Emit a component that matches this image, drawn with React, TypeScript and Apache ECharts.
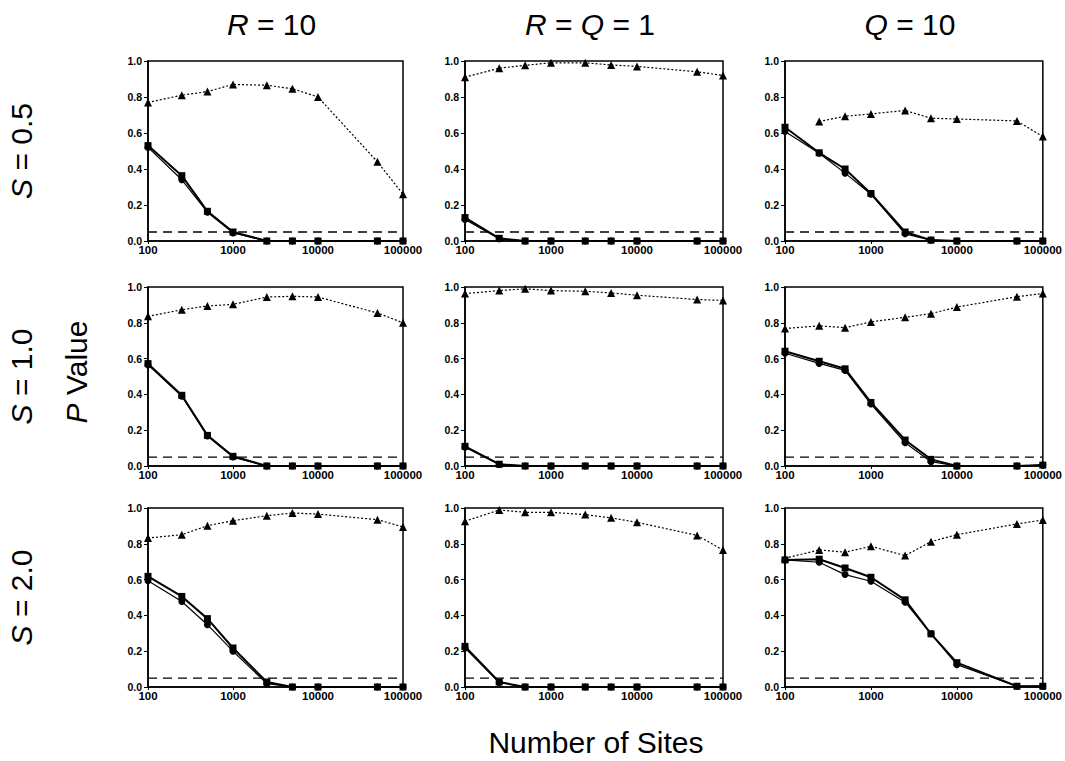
import React, { useEffect, useRef } from "react";
import * as echarts from "echarts";

// ---- data ----
const sites = [100, 250, 500, 1000, 2500, 5000, 10000, 50000, 100000];
const threshold = 0.05;
const colTitles = ["{i|R} = 10", "{i|R} = {i|Q} = 1", "{i|Q} = 10"];
const rowTitles = ["{i|S} = 0.5", "{i|S} = 1.0", "{i|S} = 2.0"];
const yTitle = "{i|P} Value";
const xTitle = "Number of Sites";

// triangles (dotted)
const triS05R10 = [0.77, 0.81, 0.83, 0.87, 0.865, 0.846, 0.8, 0.44, 0.26];
const triS05RQ1 = [0.91, 0.96, 0.976, 0.99, 0.99, 0.978, 0.97, 0.94, 0.92];
const triS05Q10 = [null, 0.664, 0.693, 0.706, 0.725, 0.682, 0.678, 0.667, 0.58];
const triS10R10 = [0.836, 0.873, 0.894, 0.903, 0.944, 0.948, 0.944, 0.855, 0.8];
const triS10RQ1 = [0.963, 0.98, 0.99, 0.98, 0.976, 0.967, 0.954, 0.93, 0.925];
const triS10Q10 = [0.768, 0.783, 0.773, 0.805, 0.831, 0.851, 0.888, 0.946, 0.963];
const triS20R10 = [0.832, 0.851, 0.901, 0.929, 0.957, 0.972, 0.966, 0.935, 0.894];
const triS20RQ1 = [0.926, 0.989, 0.976, 0.976, 0.963, 0.945, 0.92, 0.847, 0.765];
const triS20Q10 = [0.719, 0.766, 0.753, 0.786, 0.734, 0.812, 0.851, 0.911, 0.933];

// squares (thick solid)
const sqS05R10 = [0.53, 0.363, 0.165, 0.05, 0, 0, 0, 0, 0];
const sqS05RQ1 = [0.13, 0.015, 0, 0, 0, 0, 0, 0, 0];
const sqS05Q10 = [0.632, 0.49, 0.4, 0.264, 0.05, 0.005, 0, 0, 0];
const sqS10R10 = [0.572, 0.395, 0.171, 0.054, 0, 0, 0, 0, 0];
const sqS10RQ1 = [0.11, 0.01, 0, 0, 0, 0, 0, 0, 0];
const sqS10Q10 = [0.641, 0.585, 0.543, 0.355, 0.145, 0.037, 0, 0, 0.005];
const sqS20R10 = [0.618, 0.506, 0.382, 0.218, 0.028, 0, 0, 0, 0];
const sqS20RQ1 = [0.227, 0.028, 0, 0, 0, 0, 0, 0, 0];
const sqS20Q10 = [0.71, 0.714, 0.665, 0.613, 0.487, 0.297, 0.136, 0.004, 0.004];

// circles (thin solid)
const ciS05R10 = [0.52, 0.34, 0.16, 0.045, 0, 0, 0, 0, 0];
const ciS05RQ1 = [0.12, 0.012, 0, 0, 0, 0, 0, 0, 0];
const ciS05Q10 = [0.608, 0.488, 0.377, 0.26, 0.04, 0.005, 0, 0, 0];
const ciS10R10 = [0.565, 0.39, 0.168, 0.05, 0, 0, 0, 0, 0];
const ciS10RQ1 = [0.105, 0.008, 0, 0, 0, 0, 0, 0, 0];
const ciS10Q10 = [0.63, 0.573, 0.534, 0.346, 0.13, 0.024, 0, 0, 0.005];
const ciS20R10 = [0.594, 0.478, 0.348, 0.2, 0.019, 0, 0, 0, 0];
const ciS20RQ1 = [0.218, 0.025, 0, 0, 0, 0, 0, 0, 0];
const ciS20Q10 = [0.71, 0.697, 0.628, 0.591, 0.474, 0.297, 0.125, 0.004, 0.005];

const panels = [
  [triS05R10, sqS05R10, ciS05R10],
  [triS05RQ1, sqS05RQ1, ciS05RQ1],
  [triS05Q10, sqS05Q10, ciS05Q10],
  [triS10R10, sqS10R10, ciS10R10],
  [triS10RQ1, sqS10RQ1, ciS10RQ1],
  [triS10Q10, sqS10Q10, ciS10Q10],
  [triS20R10, sqS20R10, ciS20R10],
  [triS20RQ1, sqS20RQ1, ciS20RQ1],
  [triS20Q10, sqS20Q10, ciS20Q10],
];

const FONT = "Liberation Sans, Arial, Helvetica, sans-serif";

function pairs(vals: (number | null)[]) {
  const out: [number, number][] = [];
  vals.forEach((v, i) => {
    if (v !== null && v !== undefined) out.push([sites[i], v]);
  });
  return out;
}

export default function App() {
  const ref = useRef<HTMLDivElement>(null);
  useEffect(() => {
    if (!ref.current) return;
    const chart = echarts.init(ref.current, null, { renderer: "svg" });
    const colLeft = [148, 465, 785];
    const colWidth = [255, 258, 258];
    const rowTop = [61, 287, 508];
    const rowHeight = [180, 179, 179];

    const grids: any[] = [];
    const xAxes: any[] = [];
    const yAxes: any[] = [];
    const series: any[] = [];

    panels.forEach((p, idx) => {
      const r = Math.floor(idx / 3);
      const c = idx % 3;
      grids.push({
        left: colLeft[c],
        top: rowTop[r],
        width: colWidth[c],
        height: rowHeight[r],
        show: true,
        borderColor: "#000",
        borderWidth: 1.5,
        backgroundColor: "transparent",
      });
      xAxes.push({
        gridIndex: idx,
        type: "log",
        logBase: 10,
        min: 100,
        max: 100000,
        axisLine: { show: true, onZero: false, lineStyle: { color: "#000", width: 1.5 } },
        axisTick: { show: true, length: 3, lineStyle: { color: "#000" } },
        axisLabel: {
          color: "#000000",
          fontSize: 11.5,
          fontWeight: "bold",
          fontFamily: FONT,
          margin: 3,
          formatter: (v: number) => String(Math.round(v)),
        },
        splitLine: { show: false },
      });
      yAxes.push({
        gridIndex: idx,
        type: "value",
        min: 0,
        max: 1,
        interval: 0.2,
        axisLine: { show: true, lineStyle: { color: "#000", width: 1.5 } },
        axisTick: { show: true, length: 4, lineStyle: { color: "#000" } },
        axisLabel: {
          color: "#000000",
          fontSize: 10.5,
          fontWeight: "bold",
          fontFamily: FONT,
          margin: 6,
          formatter: (v: number) => v.toFixed(1),
        },
        splitLine: { show: false },
      });
      series.push({
        type: "line",
        xAxisIndex: idx,
        yAxisIndex: idx,
        data: [
          [sites[0], threshold],
          [sites[sites.length - 1], threshold],
        ],
        symbol: "none",
        lineStyle: { color: "#000", width: 1.3, type: [9, 6] },
        silent: true,
        z: 1,
      });
      series.push({
        type: "line",
        xAxisIndex: idx,
        yAxisIndex: idx,
        data: pairs(p[0]),
        symbol: "triangle",
        symbolSize: 8,
        clip: false,
        lineStyle: { color: "#000", width: 1.2, type: [2, 2] },
        itemStyle: { color: "#000" },
        z: 3,
      });
      series.push({
        type: "line",
        xAxisIndex: idx,
        yAxisIndex: idx,
        data: pairs(p[2]),
        symbol: "circle",
        symbolSize: 7,
        clip: false,
        lineStyle: { color: "#000", width: 1.2 },
        itemStyle: { color: "#000" },
        z: 3,
      });
      series.push({
        type: "line",
        xAxisIndex: idx,
        yAxisIndex: idx,
        data: pairs(p[1]),
        symbol: "rect",
        symbolSize: 7,
        clip: false,
        lineStyle: { color: "#000", width: 2 },
        itemStyle: { color: "#000" },
        z: 4,
      });
    });

    const rich = {
      i: { fontStyle: "italic", fontSize: 30, fontFamily: FONT, fill: "#000", color: "#000" },
    };
    const baseStyle = { fontSize: 30, fontFamily: FONT, fill: "#000", textAlign: "center", textVerticalAlign: "middle", rich };

    const graphic: any[] = [];
    colTitles.forEach((t, c) => {
      graphic.push({
        type: "text",
        x: colLeft[c] + colWidth[c] / 2 - 4,
        y: 24,
        style: { ...baseStyle, text: t },
      });
    });
    rowTitles.forEach((t, r) => {
      graphic.push({
        type: "text",
        x: 21,
        y: rowTop[r] + rowHeight[r] / 2,
        rotation: Math.PI / 2,
        style: { ...baseStyle, text: t },
      });
    });
    graphic.push({
      type: "text",
      x: 76,
      y: 372,
      rotation: Math.PI / 2,
      style: { ...baseStyle, text: yTitle },
    });
    graphic.push({
      type: "text",
      x: 596,
      y: 742,
      style: { ...baseStyle, text: xTitle },
    });

    chart.setOption({
      animation: false,
      backgroundColor: "#fff",
      grid: grids,
      xAxis: xAxes,
      yAxis: yAxes,
      series,
      graphic,
    });
    return () => chart.dispose();
  }, []);
  return (
    <div
      ref={ref}
      style={{ position: "fixed", left: 0, top: 0, width: 1065, height: 761 }}
    />
  );
}
